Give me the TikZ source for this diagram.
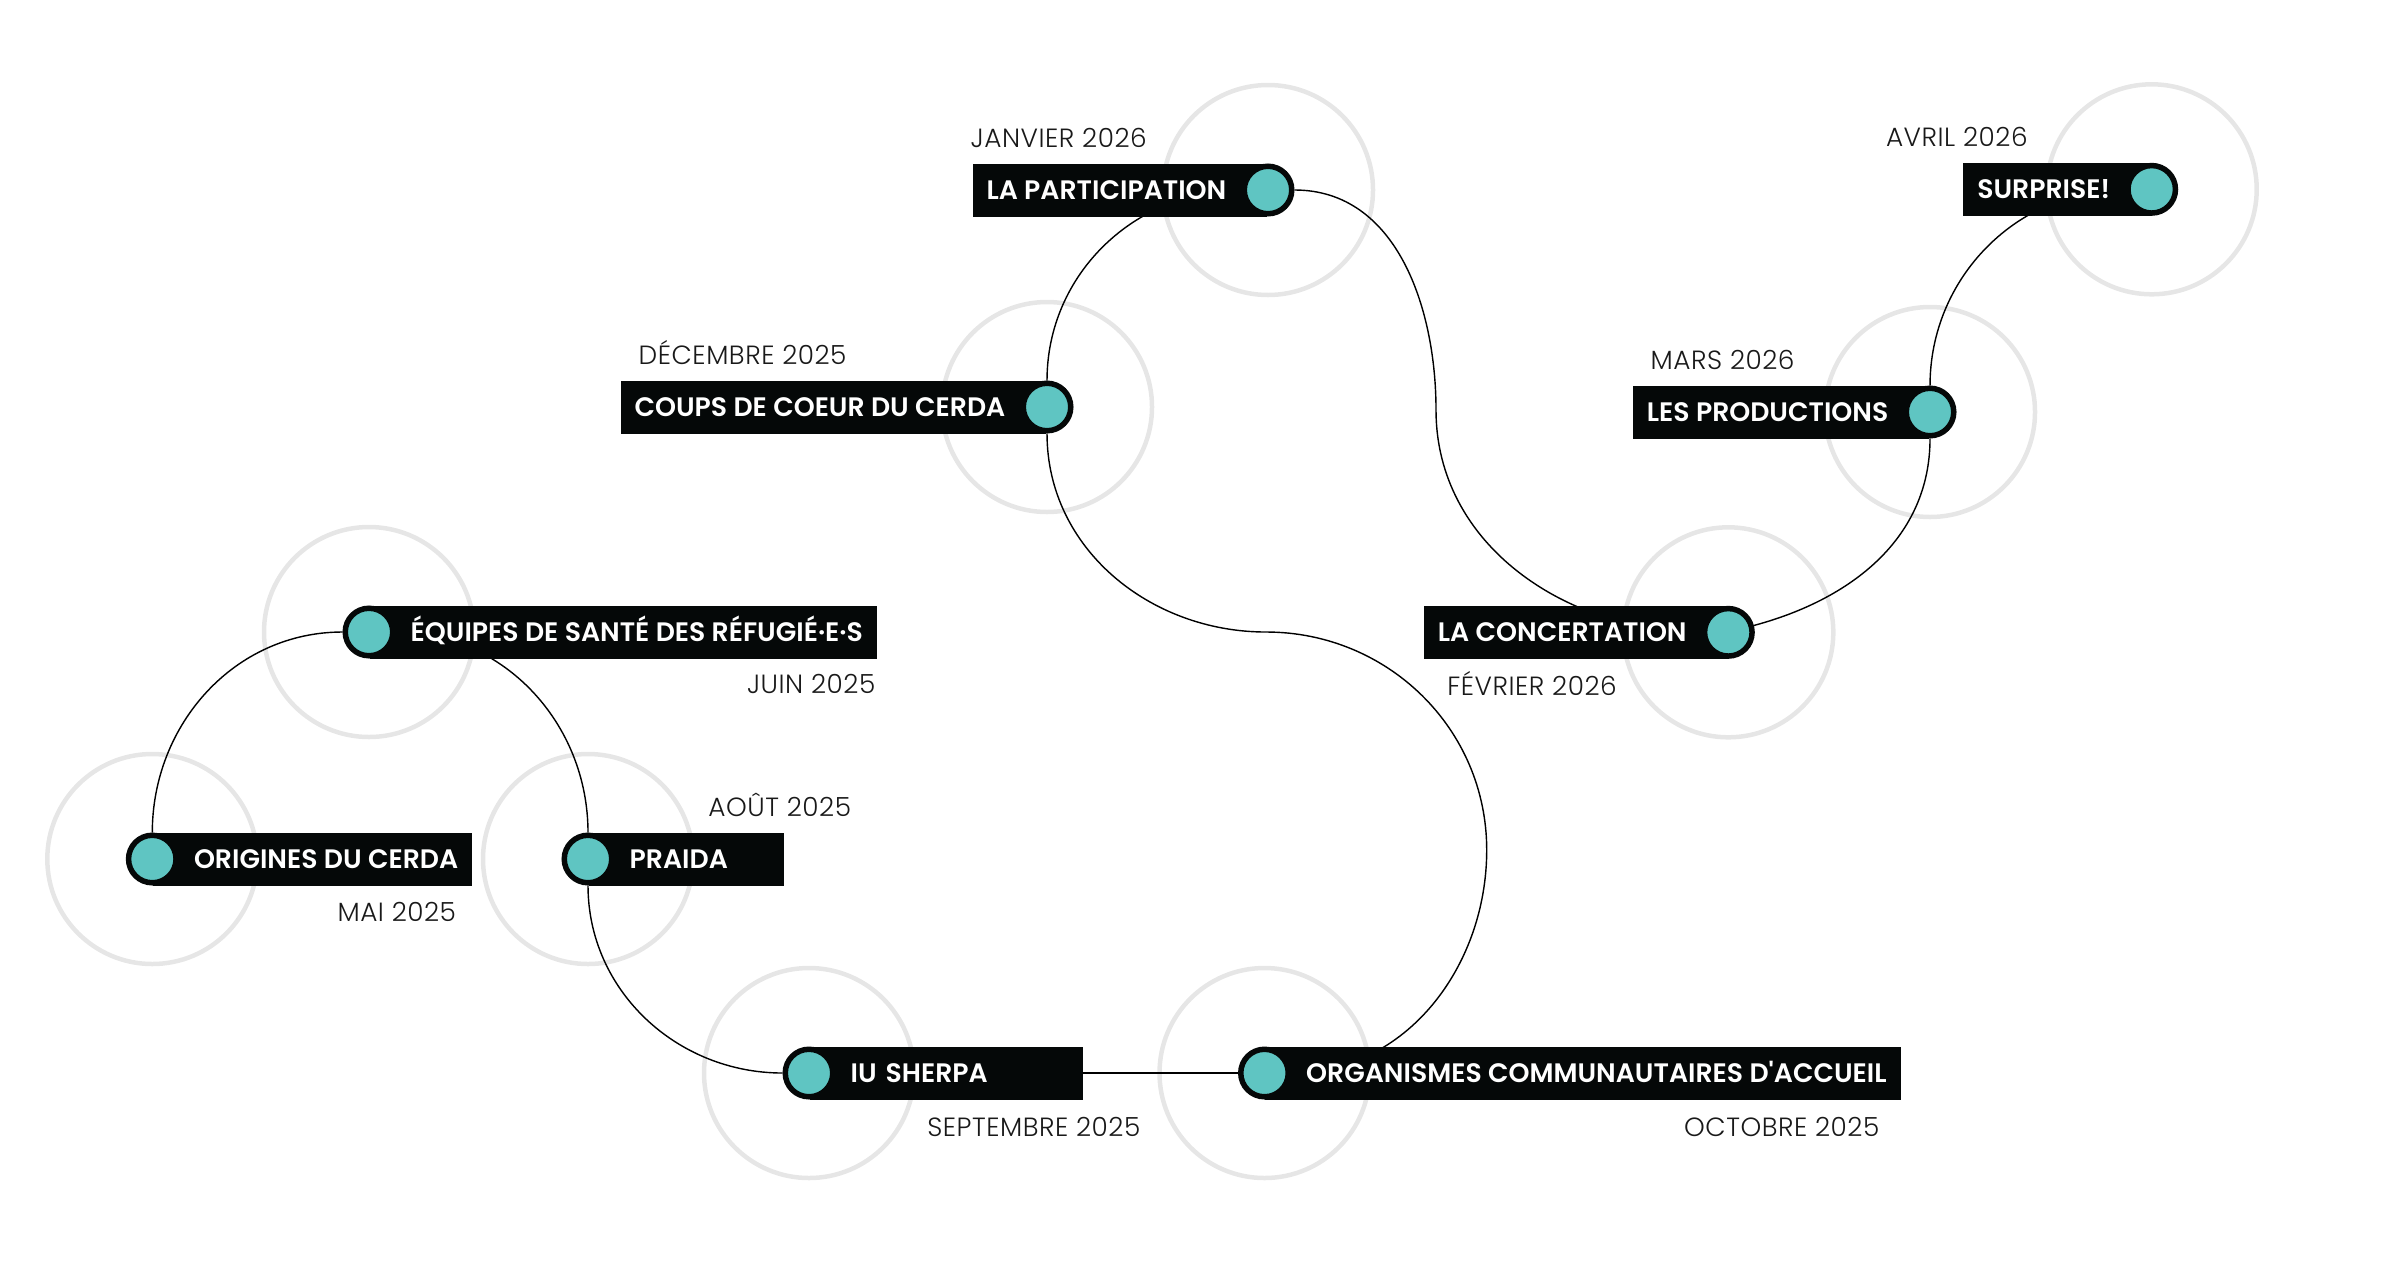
\documentclass[tikz,border=0pt]{standalone}
\usepackage{fontspec}
\setmainfont{Poppins}
\IfFontExistsTF{Poppins Light}{\newfontfamily\datefont{Poppins Light}[LetterSpace=2]}{\newfontfamily\datefont{Poppins}}
\IfFontExistsTF{Poppins SemiBold}{\newfontfamily\pillfont{Poppins SemiBold}}{\newfontfamily\pillfont{Poppins}[UprightFont=*-Bold]}
\usetikzlibrary{backgrounds}
\definecolor{pillblack}{RGB}{5,8,8}
\definecolor{dotteal}{RGB}{95,197,194}
\definecolor{ringgray}{RGB}{230,230,230}
\definecolor{datetext}{RGB}{25,25,25}
\tikzset{
    pill/.style={fill=pillblack, text=white, font=\pillfont\fontsize{7.6pt}{9pt}\selectfont,
        inner xsep=0.14cm, inner ysep=0pt, minimum height=0.53cm, text height=0.19cm, text depth=0pt},
    pillL/.style={pill, anchor=west, execute at begin node={\hspace*{0.27cm}}},
    pillR/.style={pill, anchor=east, execute at end node={\hspace*{0.27cm}}},
    eventdot/.style={circle, fill=dotteal, draw=pillblack, line width=0.055cm, minimum size=0.475cm, inner sep=0pt},
    datelbl/.style={font=\datefont\fontsize{7.5pt}{9pt}\selectfont, text=datetext, inner sep=0pt},
    ring/.style={draw=ringgray, line width=0.045cm},
    link/.style={draw=black, line width=0.4pt}
}

\begin{document}
\begin{tikzpicture}
    \useasboundingbox (0,0) rectangle (24,12.6);

    % draw pills
    \node[pillL] (p1) at (1.523,4.01) {ORIGINES DU CERDA};
    \node[pillL] (p2) at (3.69,6.28) {ÉQUIPES DE SANTÉ DES RÉFUGIÉ·E·S};
    \node[pillL, text width=1.675cm, align=left] (p3) at (5.88,4.01) {PRAIDA};
    \node[pillL, text width=2.456cm, align=left] (p4) at (8.09,1.87) {IU SHERPA};
    \node[pillL] (p5) at (12.645,1.87) {ORGANISMES COMMUNAUTAIRES D'ACCUEIL};
    \node[pillR] (p6) at (10.47,8.53) {COUPS DE COEUR DU CERDA};
    \node[pillR] (p7) at (12.68,10.70) {LA PARTICIPATION};
    \node[pillR] (p8) at (17.283,6.277) {LA CONCERTATION};
    \node[pillR] (p9) at (19.30,8.48) {LES PRODUCTIONS};
    \node[pillR] (p10) at (21.517,10.707) {SURPRISE!};

    % draw dots
    \node[eventdot] (d1) at (p1.west) {};
    \node[eventdot] (d2) at (p2.west) {};
    \node[eventdot] (d3) at (p3.west) {};
    \node[eventdot] (d4) at (p4.west) {};
    \node[eventdot] (d5) at (p5.west) {};
    \node[eventdot] (d6) at (p6.east) {};
    \node[eventdot] (d7) at (p7.east) {};
    \node[eventdot] (d8) at (p8.east) {};
    \node[eventdot] (d9) at (p9.east) {};
    \node[eventdot] (d10) at (p10.east) {};

    % draw dates
    \node[datelbl, anchor=base east] (t1) at (4.567,3.383) {MAI 2025};
    \node[datelbl, anchor=base east] (t2) at (8.76,5.67) {JUIN 2025};
    \node[datelbl, anchor=base east] (t3) at (8.518,4.433) {AOÛT 2025};
    \node[datelbl, anchor=base east] (t4) at (11.41,1.233) {SEPTEMBRE 2025};
    \node[datelbl, anchor=base east] (t5) at (18.80,1.233) {OCTOBRE 2025};
    \node[datelbl, anchor=base west] (t6) at (6.38,8.96) {DÉCEMBRE 2025};
    \node[datelbl, anchor=base west] (t7) at (9.70,11.127) {JANVIER 2026};
    \node[datelbl, anchor=base west] (t8) at (14.467,5.65) {FÉVRIER 2026};
    \node[datelbl, anchor=base west] (t9) at (16.50,8.91) {MARS 2026};
    \node[datelbl, anchor=base east] (t10) at (20.283,11.14) {AVRIL 2026};

    % bends of the timeline
    \coordinate (k1) at (14.867,4.10);
    \coordinate (k2) at (12.66,6.28);
    \coordinate (k3) at (14.36,8.50);

    \begin{scope}[on background layer]
        % draw rings
        \foreach \n in {d1,d2,d3,d4,d5,d6,d7,d8,d9,d10}
            \draw[ring] (\n) circle[radius=1.05];

        % draw timeline
        \draw[link] (d1) to[out=90,in=180] (d2);
        \draw[link] (d2) to[out=0,in=90] (d3);
        \draw[link] (d3) to[out=-90,in=180] (d4);
        \draw[link] (d4) -- (d5);
        \draw[link] (d5) to[out=0,in=-90] (k1) to[out=90,in=0] (k2) to[out=180,in=-90] (d6);
        \draw[link] (d6) to[out=90,in=180] (d7);
        \draw[link] (d7) to[out=0,in=90] (k3) to[out=-90,in=180] (d8);
        \draw[link] (d8) to[out=15,in=-90] (d9);
        \draw[link] (d9) to[out=90,in=180] (d10);
    \end{scope}
\end{tikzpicture}
\end{document}
